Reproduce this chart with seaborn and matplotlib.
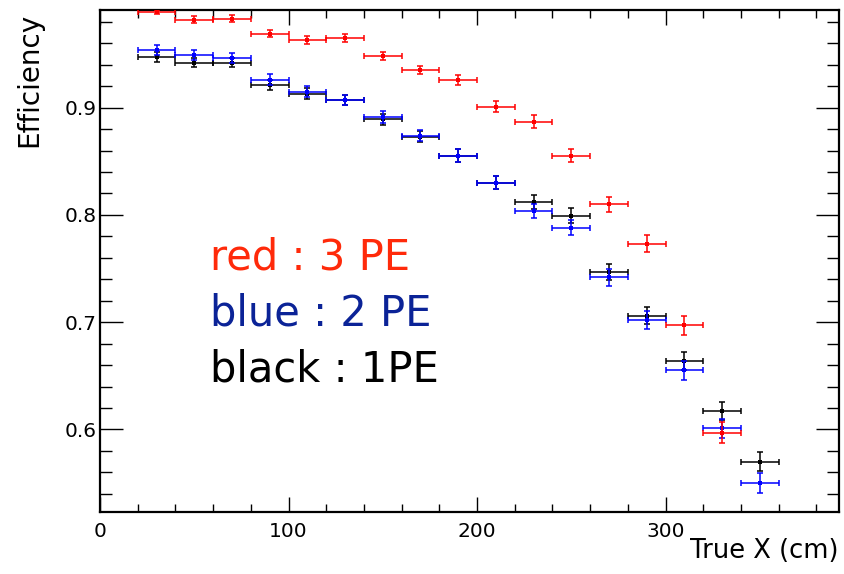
import matplotlib
matplotlib.use("Agg")
import matplotlib.pyplot as plt
from matplotlib.ticker import MultipleLocator
import pandas as pd
import seaborn as sns

# Bin centres (cm) of the 20 cm wide bins along the true X position
bin_centers = [30, 50, 70, 90, 110, 130, 150, 170, 190, 210, 230, 250, 270, 290, 310, 330, 350]
bin_half_width = 10

# Efficiency per bin for each photo-electron threshold
eff_3pe = [0.989, 0.982, 0.983, 0.969, 0.963, 0.965, 0.948, 0.935, 0.926, 0.901,
           0.887, 0.855, 0.810, 0.773, 0.697, 0.597]
err_3pe = [0.002, 0.003, 0.003, 0.003, 0.0035, 0.0035, 0.004, 0.004, 0.0045, 0.005,
           0.006, 0.006, 0.007, 0.008, 0.009, 0.010]

eff_2pe = [0.954, 0.949, 0.946, 0.926, 0.915, 0.907, 0.891, 0.874, 0.855, 0.830,
           0.804, 0.788, 0.742, 0.702, 0.655, 0.601, 0.550]
err_2pe = [0.0045, 0.0045, 0.0045, 0.005, 0.005, 0.005, 0.0055, 0.0055, 0.006, 0.006,
           0.0065, 0.007, 0.008, 0.0085, 0.0085, 0.009, 0.009]

eff_1pe = [0.947, 0.942, 0.942, 0.921, 0.913, 0.907, 0.889, 0.873, 0.855, 0.830,
           0.812, 0.799, 0.747, 0.706, 0.664, 0.617, 0.570]
err_1pe = [0.0045, 0.0045, 0.0045, 0.005, 0.005, 0.005, 0.0055, 0.0055, 0.006, 0.006,
           0.0065, 0.007, 0.0075, 0.008, 0.0085, 0.0085, 0.009]

series_labels = ["red : 3 PE", "blue : 2 PE", "black : 1PE"]
x_label = "True X (cm)"
y_label = "Efficiency"

sns.set_theme(style="ticks")
plt.rcParams["font.family"] = ["DejaVu Sans"]

frames = []
for name, eff, err in [("1PE", eff_1pe, err_1pe), ("2PE", eff_2pe, err_2pe), ("3PE", eff_3pe, err_3pe)]:
    frames.append(pd.DataFrame({
        "x": bin_centers[:len(eff)],
        "eff": eff,
        "err": err,
        "threshold": name,
    }))
data = pd.concat(frames, ignore_index=True)

line_colors = {"1PE": "#000000", "2PE": "#0000FF", "3PE": "#FF0000"}

fig = plt.figure(figsize=(8.44, 5.74), dpi=100)
ax = fig.add_axes([100 / 844, 62 / 574, 739 / 844, 502 / 574])

# Draw 1PE first, then 2PE, then 3PE on top
for z, name in enumerate(["1PE", "2PE", "3PE"]):
    sub = data[data["threshold"] == name]
    col = line_colors[name]
    ax.errorbar(sub["x"], sub["eff"], xerr=bin_half_width, yerr=sub["err"],
                fmt="none", ecolor=col, elinewidth=1.1, capsize=1.9, capthick=1.1,
                zorder=3 + 2 * z)
    sns.scatterplot(data=sub, x="x", y="eff", color=col, marker="s", s=5,
                    linewidth=0, legend=False, ax=ax, zorder=4 + 2 * z)

ax.set_xlim(0, 392)
ax.set_ylim(0.523, 0.991)

ax.xaxis.set_major_locator(MultipleLocator(100))
ax.xaxis.set_minor_locator(MultipleLocator(20))
ax.yaxis.set_major_locator(MultipleLocator(0.1))
ax.yaxis.set_minor_locator(MultipleLocator(0.02))
ax.yaxis.set_major_formatter(plt.FuncFormatter(lambda v, p: f"{v:.1f}"))

ax.tick_params(which="both", direction="in", top=True, right=True, width=1.0,
               color="black", labelsize=14.5, labelcolor="black")
ax.tick_params(axis="x", which="major", length=10.8, pad=7)
ax.tick_params(axis="x", which="minor", length=5.8)
ax.tick_params(axis="y", which="major", length=16.6, pad=2.5)
ax.tick_params(axis="y", which="minor", length=8.6)

for side in ["left", "right", "top", "bottom"]:
    ax.spines[side].set_visible(True)
    ax.spines[side].set_linewidth(1.6)
    ax.spines[side].set_color("black")

ax.set_xlabel(x_label, fontsize=18.5, loc="right", color="black")
ax.xaxis.label.set_va("baseline")
ax.xaxis.set_label_coords(1.0, (512 - 558) / 502)
ax.set_ylabel(y_label, fontsize=20, loc="top", color="black")
ax.yaxis.label.set_va("baseline")
ax.yaxis.set_label_coords((37 - 100) / 739, (512 - 13) / 502)

text_colors = ["#FF2A0A", "#0B2397", "#000000"]
text_baselines = [270, 325, 381.5]
for label, col, yb in zip(series_labels, text_colors, text_baselines):
    ax.text((210 - 100) / 739, (512 - yb) / 502, label, transform=ax.transAxes,
            color=col, fontsize=30, ha="left", va="baseline")

fig.savefig("out.png", dpi=100, facecolor="white")
